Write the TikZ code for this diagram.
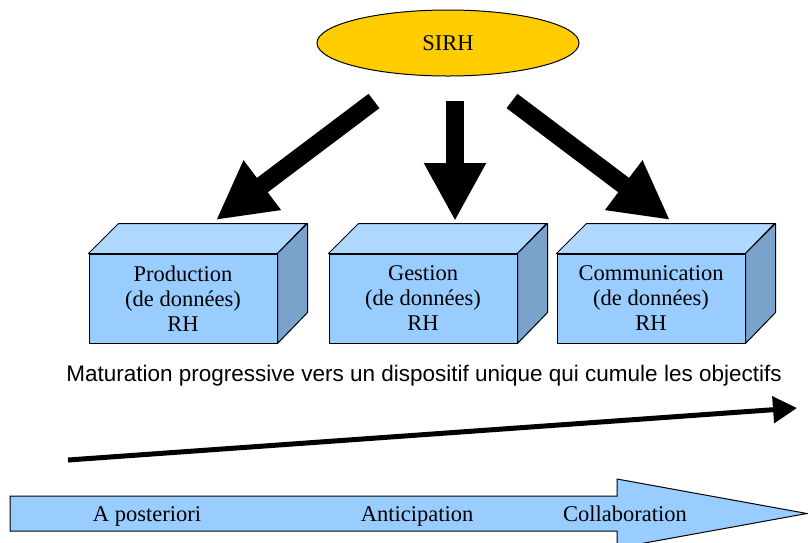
\documentclass[tikz,border=0pt]{standalone}
\usepackage{fontspec}
\setmainfont{Liberation Serif}
\setsansfont{Liberation Sans}
\usepackage{tikz}
\usetikzlibrary{shapes.geometric, arrows.meta}
\definecolor{sirhyellow}{HTML}{FFCC00}
\definecolor{cubefront}{HTML}{99CCFF}
\definecolor{cubetop}{HTML}{B0D8FF}
\definecolor{cubeside}{HTML}{7AA3CC}
\tikzset{
	x=1pt, y=-1pt, % one unit is one pixel, y runs downwards
	every node/.style={font=\fontsize{22.5}{25}\selectfont}, % serif text of the boxes
	sirh/.style={ellipse, draw, line width=1pt, fill=sirhyellow, minimum width=262pt, minimum height=66pt}, % the top ellipse
	cube/.style={draw, line width=1pt, fill=cubefront, minimum width=188pt, minimum height=89pt, align=center}, % front face of a box
	bigarrow/.style={line width=18pt, -{Triangle[length=58pt 0, width=58pt 0]}}, % the three fat arrows
	trend/.style={line width=5pt, -{Triangle[length=24pt 0, width=26pt 0]}}, % the slanted arrow
	band/.style={draw, line width=1pt, fill=cubefront}, % the bottom arrow
}

\begin{document}
\begin{tikzpicture}
	\useasboundingbox (0,0) rectangle (808,542);
	\node[sirh] (sirh) at (448,43) {SIRH};
	% front faces of the boxes
	\node[cube] (prod) at (183,298.5) {Production\\(de données)\\RH};
	\node[cube] (gest) at (423,298.5) {Gestion\\(de données)\\RH};
	\node[cube] (comm) at (651,298.5) {Communication\\(de données)\\RH};
	\foreach \b in {prod,gest,comm}{
		\draw[line width=1pt, fill=cubetop, line join=round] (\b.north west) -- ++(30,-30) -- ++(188,0) -- (\b.north east) -- cycle;
		\draw[line width=1pt, fill=cubeside, line join=round] (\b.north east) -- ++(30,-30) -- ++(0,89) -- (\b.south east) -- cycle;
	}
	% ends of the fat arrows
	\coordinate (t1) at (374,101);
	\coordinate (h1) at (216,220);
	\coordinate (t2) at (455,101);
	\coordinate (h2) at (455,221);
	\coordinate (t3) at (512,101);
	\coordinate (h3) at (670,220);
	\draw[bigarrow] (t1) -- (h1);
	\draw[bigarrow] (t2) -- (h2);
	\draw[bigarrow] (t3) -- (h3);
	\node[font=\sffamily\fontsize{22.5}{26}\selectfont, anchor=base] (matur) at (424,381) {Maturation progressive vers un dispositif unique qui cumule les objectifs};
	\coordinate (s1) at (68,460);
	\coordinate (s2) at (797,408);
	\draw[trend] (s1) -- (s2);
	% bottom arrow
	\draw[band] (10,496) -- (617,496) -- (617,479) -- (807,513.5) -- (617,548) -- (617,531) -- (10,531) -- cycle;
	\node[anchor=base] (apost) at (147,521) {A posteriori};
	\node[anchor=base] (antic) at (417,521) {Anticipation};
	\node[anchor=base] (collab) at (625,521) {Collaboration};
\end{tikzpicture}
\end{document}
